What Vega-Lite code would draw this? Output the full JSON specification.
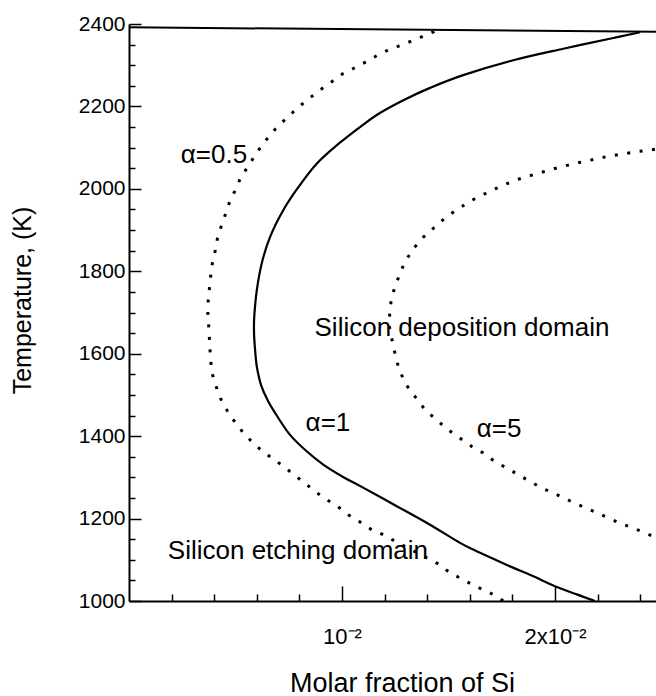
{
  "$schema": "https://vega.github.io/schema/vega-lite/v6.json",
  "width": 527,
  "height": 577,
  "autosize": {"type": "none"},
  "padding": {"left": 129, "top": 24, "right": 0, "bottom": 95},
  "background": "white",
  "config": {"view": {"stroke": null}, "font": "Liberation Sans"},
  "datasets": {
    "curves": [
      {"s": "a05", "i": 1, "x": 0.01756, "T": 1000},
      {"s": "a05", "i": 2, "x": 0.01742, "T": 1006},
      {"s": "a05", "i": 3, "x": 0.01687, "T": 1022},
      {"s": "a05", "i": 4, "x": 0.01624, "T": 1036},
      {"s": "a05", "i": 5, "x": 0.01569, "T": 1052},
      {"s": "a05", "i": 6, "x": 0.01507, "T": 1068},
      {"s": "a05", "i": 7, "x": 0.01460, "T": 1088},
      {"s": "a05", "i": 8, "x": 0.01249, "T": 1145},
      {"s": "a05", "i": 9, "x": 0.01194, "T": 1161},
      {"s": "a05", "i": 10, "x": 0.01139, "T": 1173},
      {"s": "a05", "i": 11, "x": 0.01081, "T": 1193},
      {"s": "a05", "i": 12, "x": 0.01030, "T": 1209},
      {"s": "a05", "i": 13, "x": 0.00978, "T": 1230},
      {"s": "a05", "i": 14, "x": 0.00928, "T": 1246},
      {"s": "a05", "i": 15, "x": 0.00878, "T": 1264},
      {"s": "a05", "i": 16, "x": 0.00826, "T": 1286},
      {"s": "a05", "i": 17, "x": 0.00775, "T": 1306},
      {"s": "a05", "i": 18, "x": 0.00722, "T": 1328},
      {"s": "a05", "i": 19, "x": 0.00665, "T": 1349},
      {"s": "a05", "i": 20, "x": 0.00607, "T": 1372},
      {"s": "a05", "i": 21, "x": 0.00548, "T": 1401},
      {"s": "a05", "i": 22, "x": 0.00501, "T": 1431},
      {"s": "a05", "i": 23, "x": 0.00462, "T": 1461},
      {"s": "a05", "i": 24, "x": 0.00431, "T": 1490},
      {"s": "a05", "i": 25, "x": 0.00408, "T": 1522},
      {"s": "a05", "i": 26, "x": 0.00391, "T": 1551},
      {"s": "a05", "i": 27, "x": 0.00384, "T": 1581},
      {"s": "a05", "i": 28, "x": 0.00380, "T": 1611},
      {"s": "a05", "i": 29, "x": 0.00377, "T": 1641},
      {"s": "a05", "i": 30, "x": 0.00374, "T": 1669},
      {"s": "a05", "i": 31, "x": 0.00370, "T": 1699},
      {"s": "a05", "i": 32, "x": 0.00372, "T": 1730},
      {"s": "a05", "i": 33, "x": 0.00384, "T": 1791},
      {"s": "a05", "i": 34, "x": 0.00391, "T": 1819},
      {"s": "a05", "i": 35, "x": 0.00404, "T": 1848},
      {"s": "a05", "i": 36, "x": 0.00415, "T": 1879},
      {"s": "a05", "i": 37, "x": 0.00431, "T": 1906},
      {"s": "a05", "i": 38, "x": 0.00451, "T": 1936},
      {"s": "a05", "i": 39, "x": 0.00471, "T": 1966},
      {"s": "a05", "i": 40, "x": 0.00498, "T": 1996},
      {"s": "a05", "i": 41, "x": 0.00526, "T": 2029},
      {"s": "a05", "i": 42, "x": 0.00560, "T": 2055},
      {"s": "a05", "i": 43, "x": 0.00596, "T": 2085},
      {"s": "a05", "i": 44, "x": 0.00638, "T": 2115},
      {"s": "a05", "i": 45, "x": 0.00685, "T": 2144},
      {"s": "a05", "i": 46, "x": 0.00740, "T": 2172},
      {"s": "a05", "i": 47, "x": 0.00795, "T": 2198},
      {"s": "a05", "i": 48, "x": 0.00850, "T": 2221},
      {"s": "a05", "i": 49, "x": 0.00900, "T": 2241},
      {"s": "a05", "i": 50, "x": 0.00952, "T": 2260},
      {"s": "a05", "i": 51, "x": 0.01003, "T": 2279},
      {"s": "a05", "i": 52, "x": 0.01053, "T": 2292},
      {"s": "a05", "i": 53, "x": 0.01108, "T": 2307},
      {"s": "a05", "i": 54, "x": 0.01163, "T": 2323},
      {"s": "a05", "i": 55, "x": 0.01217, "T": 2337},
      {"s": "a05", "i": 56, "x": 0.01269, "T": 2347},
      {"s": "a05", "i": 57, "x": 0.01323, "T": 2358},
      {"s": "a05", "i": 58, "x": 0.01379, "T": 2370},
      {"s": "a05", "i": 59, "x": 0.01429, "T": 2381},
      {"s": "a05", "i": 60, "x": 0.01450, "T": 2389},
      {"s": "a1", "i": 1, "x": 0.02188, "T": 1000},
      {"s": "a1", "i": 2, "x": 0.02102, "T": 1016},
      {"s": "a1", "i": 3, "x": 0.02000, "T": 1036},
      {"s": "a1", "i": 4, "x": 0.01898, "T": 1060},
      {"s": "a1", "i": 5, "x": 0.01789, "T": 1084},
      {"s": "a1", "i": 6, "x": 0.01632, "T": 1121},
      {"s": "a1", "i": 7, "x": 0.01554, "T": 1141},
      {"s": "a1", "i": 8, "x": 0.01413, "T": 1185},
      {"s": "a1", "i": 9, "x": 0.01257, "T": 1230},
      {"s": "a1", "i": 10, "x": 0.01099, "T": 1275},
      {"s": "a1", "i": 11, "x": 0.01005, "T": 1301},
      {"s": "a1", "i": 12, "x": 0.00912, "T": 1331},
      {"s": "a1", "i": 13, "x": 0.00826, "T": 1367},
      {"s": "a1", "i": 14, "x": 0.00756, "T": 1403},
      {"s": "a1", "i": 15, "x": 0.00701, "T": 1444},
      {"s": "a1", "i": 16, "x": 0.00654, "T": 1484},
      {"s": "a1", "i": 17, "x": 0.00620, "T": 1524},
      {"s": "a1", "i": 18, "x": 0.00600, "T": 1569},
      {"s": "a1", "i": 19, "x": 0.00592, "T": 1609},
      {"s": "a1", "i": 20, "x": 0.00587, "T": 1650},
      {"s": "a1", "i": 21, "x": 0.00588, "T": 1690},
      {"s": "a1", "i": 22, "x": 0.00600, "T": 1754},
      {"s": "a1", "i": 23, "x": 0.00623, "T": 1819},
      {"s": "a1", "i": 24, "x": 0.00662, "T": 1883},
      {"s": "a1", "i": 25, "x": 0.00724, "T": 1948},
      {"s": "a1", "i": 26, "x": 0.00795, "T": 2004},
      {"s": "a1", "i": 27, "x": 0.00881, "T": 2061},
      {"s": "a1", "i": 28, "x": 0.00983, "T": 2109},
      {"s": "a1", "i": 29, "x": 0.01100, "T": 2156},
      {"s": "a1", "i": 30, "x": 0.01178, "T": 2184},
      {"s": "a1", "i": 31, "x": 0.01288, "T": 2215},
      {"s": "a1", "i": 32, "x": 0.01413, "T": 2245},
      {"s": "a1", "i": 33, "x": 0.01569, "T": 2276},
      {"s": "a1", "i": 34, "x": 0.01804, "T": 2312},
      {"s": "a1", "i": 35, "x": 0.02039, "T": 2340},
      {"s": "a1", "i": 36, "x": 0.02274, "T": 2366},
      {"s": "a1", "i": 37, "x": 0.02399, "T": 2380},
      {"s": "a5", "i": 1, "x": 0.02469, "T": 2096},
      {"s": "a5", "i": 2, "x": 0.02368, "T": 2089},
      {"s": "a5", "i": 3, "x": 0.02250, "T": 2079},
      {"s": "a5", "i": 4, "x": 0.02141, "T": 2067},
      {"s": "a5", "i": 5, "x": 0.02031, "T": 2054},
      {"s": "a5", "i": 6, "x": 0.01922, "T": 2038},
      {"s": "a5", "i": 7, "x": 0.01812, "T": 2021},
      {"s": "a5", "i": 8, "x": 0.01710, "T": 1998},
      {"s": "a5", "i": 9, "x": 0.01601, "T": 1970},
      {"s": "a5", "i": 10, "x": 0.01492, "T": 1933},
      {"s": "a5", "i": 11, "x": 0.01382, "T": 1883},
      {"s": "a5", "i": 12, "x": 0.01335, "T": 1855},
      {"s": "a5", "i": 13, "x": 0.01296, "T": 1823},
      {"s": "a5", "i": 14, "x": 0.01272, "T": 1795},
      {"s": "a5", "i": 15, "x": 0.01249, "T": 1762},
      {"s": "a5", "i": 16, "x": 0.01233, "T": 1738},
      {"s": "a5", "i": 17, "x": 0.01225, "T": 1706},
      {"s": "a5", "i": 18, "x": 0.01221, "T": 1670},
      {"s": "a5", "i": 19, "x": 0.01241, "T": 1617},
      {"s": "a5", "i": 20, "x": 0.01264, "T": 1569},
      {"s": "a5", "i": 21, "x": 0.01296, "T": 1528},
      {"s": "a5", "i": 22, "x": 0.01343, "T": 1496},
      {"s": "a5", "i": 23, "x": 0.01390, "T": 1464},
      {"s": "a5", "i": 24, "x": 0.01445, "T": 1439},
      {"s": "a5", "i": 25, "x": 0.01499, "T": 1415},
      {"s": "a5", "i": 26, "x": 0.01554, "T": 1395},
      {"s": "a5", "i": 27, "x": 0.01609, "T": 1375},
      {"s": "a5", "i": 28, "x": 0.01663, "T": 1359},
      {"s": "a5", "i": 29, "x": 0.01718, "T": 1338},
      {"s": "a5", "i": 30, "x": 0.01773, "T": 1323},
      {"s": "a5", "i": 31, "x": 0.01828, "T": 1306},
      {"s": "a5", "i": 32, "x": 0.01883, "T": 1290},
      {"s": "a5", "i": 33, "x": 0.01938, "T": 1274},
      {"s": "a5", "i": 34, "x": 0.01992, "T": 1262},
      {"s": "a5", "i": 35, "x": 0.02086, "T": 1239},
      {"s": "a5", "i": 36, "x": 0.02196, "T": 1214},
      {"s": "a5", "i": 37, "x": 0.02305, "T": 1189},
      {"s": "a5", "i": 38, "x": 0.02415, "T": 1167},
      {"s": "a5", "i": 39, "x": 0.02469, "T": 1155},
      {"s": "frame", "i": 1, "x": 0, "T": 2392},
      {"s": "frame", "i": 2, "x": 0.02474, "T": 2381}
    ],
    "notes": [
      {"label": "α=0.5", "x": 0.00399, "T": 2083},
      {"label": "α=1", "x": 0.00934, "T": 1432},
      {"label": "α=5", "x": 0.01737, "T": 1418},
      {"label": "Silicon deposition domain", "x": 0.01563, "T": 1662},
      {"label": "Silicon etching domain", "x": 0.00793, "T": 1122}
    ]
  },
  "resolve": {"axis": {"x": "independent", "y": "independent"}},
  "layer": [
    {
      "data": {"name": "curves"},
      "transform": [{"filter": "datum.s === 'frame'"}],
      "mark": {"type": "line", "color": "black", "strokeWidth": 2, "clip": true},
      "encoding": {
        "x": {
          "field": "x", "type": "quantitative",
          "scale": {"domain": [0, 0.02474], "nice": false, "zero": false},
          "axis": {
            "orient": "bottom",
            "values": [0.01, 0.02],
            "labelExpr": "datum.value === 0.01 ? '10⁻²' : '2x10⁻²'",
            "ticks": false,
            "domainColor": "black", "domainWidth": 2,
            "labelFont": "Liberation Sans", "labelFontSize": 22, "labelColor": "black",
            "labelPadding": 25, "labelFlush": false, "labelOverlap": false,
            "grid": false,
            "title": "Molar fraction of Si",
            "titleFont": "Liberation Sans", "titleFontSize": 27, "titleFontWeight": "normal", "titleColor": "black",
            "titleX": 273, "titleY": 82, "titleBaseline": "middle"
          }
        },
        "y": {
          "field": "T", "type": "quantitative",
          "scale": {"domain": [1000, 2400], "nice": false, "zero": false},
          "axis": {
            "orient": "left",
            "values": [1000, 1200, 1400, 1600, 1800, 2000, 2200, 2400],
            "format": "d",
            "ticks": false,
            "domainColor": "black", "domainWidth": 2,
            "labelFont": "Liberation Sans", "labelFontSize": 21, "labelColor": "black",
            "labelPadding": 4, "labelFlush": false, "labelOverlap": false,
            "grid": false,
            "title": "Temperature, (K)",
            "titleFont": "Liberation Sans", "titleFontSize": 25, "titleFontWeight": "normal", "titleColor": "black",
            "titleX": -107, "titleY": 276, "titleBaseline": "middle"
          }
        },
        "order": {"field": "i", "type": "quantitative"}
      }
    },
    {
      "data": {"name": "curves"},
      "transform": [{"filter": "datum.s === 'a1'"}],
      "mark": {"type": "line", "color": "black", "strokeWidth": 2.2, "interpolate": "cardinal", "clip": true},
      "encoding": {
        "x": {
          "field": "x", "type": "quantitative",
          "scale": {"domain": [0, 0.02474], "nice": false, "zero": false},
          "axis": {
            "orient": "top", "offset": -577,
            "values": [0.002, 0.004, 0.006, 0.008, 0.01, 0.012, 0.014, 0.016, 0.018, 0.02, 0.022, 0.024],
            "labels": false, "domain": false, "grid": false, "title": null,
            "tickSize": {"condition": {"test": "datum.value === 0.01 || datum.value === 0.02", "value": 15}, "value": 7},
            "tickColor": "black", "tickWidth": 1.5
          }
        },
        "y": {
          "field": "T", "type": "quantitative",
          "scale": {"domain": [1000, 2400], "nice": false, "zero": false},
          "axis": {
            "orient": "right", "offset": -527,
            "values": [1000, 1050, 1100, 1150, 1200, 1250, 1300, 1350, 1400, 1450, 1500, 1550, 1600, 1650, 1700, 1750, 1800, 1850, 1900, 1950, 2000, 2050, 2100, 2150, 2200, 2250, 2300, 2350, 2400],
            "labels": false, "domain": false, "grid": false, "title": null,
            "tickSize": {"condition": {"test": "datum.value % 200 === 0", "value": 12}, "value": 6},
            "tickColor": "black", "tickWidth": 1.5
          }
        },
        "order": {"field": "i", "type": "quantitative"}
      }
    },
    {
      "data": {"name": "curves"},
      "transform": [{"filter": "datum.s === 'a05' || datum.s === 'a5'"}],
      "mark": {"type": "line", "color": "black", "strokeWidth": 3, "strokeDash": [3, 9.5], "clip": true},
      "encoding": {
        "x": {"field": "x", "type": "quantitative", "axis": null},
        "y": {"field": "T", "type": "quantitative", "axis": null},
        "detail": {"field": "s", "type": "nominal"},
        "order": {"field": "i", "type": "quantitative"}
      }
    },
    {
      "data": {"name": "notes"},
      "mark": {"type": "text", "font": "Liberation Sans", "fontSize": 26, "color": "black", "align": "center", "baseline": "middle"},
      "encoding": {
        "x": {"field": "x", "type": "quantitative", "axis": null},
        "y": {"field": "T", "type": "quantitative", "axis": null},
        "text": {"field": "label", "type": "nominal"}
      }
    }
  ]
}
